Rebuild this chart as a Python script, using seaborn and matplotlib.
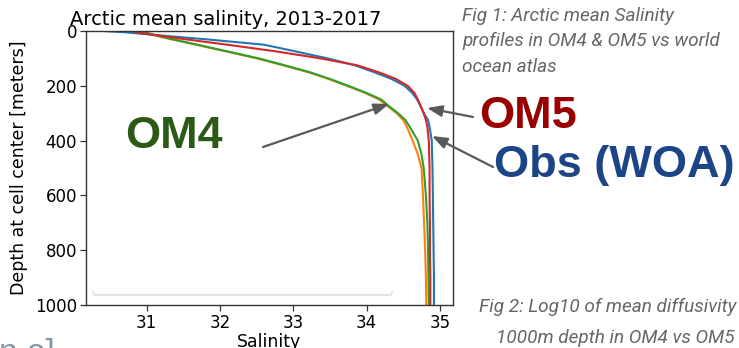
import matplotlib
matplotlib.use("Agg")
import matplotlib.pyplot as plt
import seaborn as sns
import pandas as pd
from matplotlib import font_manager as fm
from matplotlib.lines import Line2D
from matplotlib.patches import FancyArrowPatch

# ---------------- data ----------------
depth = [0, 5, 10, 20, 30, 50, 75, 100, 125, 150, 175, 200, 225, 250, 275,
         300, 325, 350, 400, 450, 500, 600, 700, 800, 900, 1000]

sal_obs = [30.40, 30.72, 30.92, 31.35, 31.80, 32.60, 33.04, 33.47, 33.84, 34.10,
           34.34, 34.52, 34.62, 34.69, 34.74, 34.78, 34.84, 34.86, 34.89, 34.895,
           34.90, 34.905, 34.91, 34.915, 34.92, 34.92]
sal_om4a = [30.88, 30.96, 31.03, 31.17, 31.33, 31.67, 32.09, 32.50, 32.86, 33.20,
            33.48, 33.73, 33.97, 34.17, 34.29, 34.41, 34.50, 34.55, 34.63, 34.70,
            34.75, 34.77, 34.785, 34.80, 34.81, 34.815]
sal_om4b = [30.90, 30.98, 31.05, 31.19, 31.35, 31.69, 32.11, 32.53, 32.88, 33.22,
            33.50, 33.75, 33.99, 34.20, 34.31, 34.43, 34.53, 34.59, 34.70, 34.75,
            34.78, 34.81, 34.83, 34.84, 34.845, 34.85]
sal_om5 = [30.77, 30.87, 30.98, 31.25, 31.52, 32.10, 32.78, 33.37, 33.87, 34.16,
           34.40, 34.56, 34.65, 34.70, 34.74, 34.78, 34.81, 34.83, 34.85, 34.855,
           34.86, 34.86, 34.865, 34.865, 34.87, 34.87]

series_names = ["WOA", "OM4 a", "OM4 b", "OM5"]
series_values = [sal_obs, sal_om4a, sal_om4b, sal_om5]
series_colors = ["#1f77b4", "#ff7f0e", "#2ca02c", "#d62728"]

xticks = [31, 32, 33, 34, 35]
yticks = [0, 200, 400, 600, 800, 1000]

title = "Arctic mean salinity, 2013-2017"
xlabel = "Salinity"
ylabel = "Depth at cell center [meters]"

cap1 = ["Fig 1: Arctic mean Salinity", "profiles in OM4 & OM5 vs world", "ocean atlas"]
cap2 = ["Fig 2: Log10 of mean diffusivity", "1000m depth in OM4 vs OM5 v"]

# ---------------- figure ----------------
W, H = 739, 348
plt.rcParams["font.family"] = ["DejaVu Sans"]
fig = plt.figure(figsize=(W / 100, H / 100), dpi=100)
fig.patch.set_facecolor("white")

def fx(x):
    return x / W

def fy(y):
    return 1 - y / H

ax = fig.add_axes([fx(86), fy(305), (453 - 86) / W, (305 - 31) / H])

df = pd.concat(
    [pd.DataFrame({"depth": depth, "salinity": v, "series": n})
     for n, v in zip(series_names, series_values)],
    ignore_index=True,
)
sns.lineplot(data=df, x="salinity", y="depth", hue="series",
             palette=dict(zip(series_names, series_colors)),
             sort=False, estimator=None, linewidth=1.5, legend=False, ax=ax)

ax.set_xlim(30.17, 35.18)
ax.set_ylim(1000, 0)
ax.set_yticks(yticks)
ax.set_xticks(xticks)
ax.tick_params(labelsize=12, length=4, pad=2.5, width=0.9, color="#333333")
for s in ax.spines.values():
    s.set_color("#333333")
    s.set_linewidth(1.0)
ax.set_xlabel(xlabel, fontsize=12.5, labelpad=1)
ax.set_ylabel(ylabel, fontsize=12.5, labelpad=5)
ax.set_title(title, loc="left", x=-0.044, pad=4.3, fontsize=14)

# faint slide artefact line
fig.add_artist(Line2D([fx(93), fx(94), fx(391), fx(392)],
                      [fy(292), fy(295), fy(295), fy(292)],
                      color="#e4e4e4", lw=1.5, transform=fig.transFigure))

# ---------------- annotations ----------------
big = dict(family=["Liberation Sans", "DejaVu Sans"], weight="bold", fontsize=32.5)
fig.text(fx(125), fy(148.5), "OM4", color="#2b5a17", va="baseline", ha="left", **big)
fig.text(fx(479), fy(128.5), "OM5", color="#990000", va="baseline", ha="left", **big)
fig.text(fx(494), fy(176.5), "Obs (WOA)", color="#1c4587", va="baseline", ha="left", **big)

def arrow(x0, y0, x1, y1):
    fig.add_artist(FancyArrowPatch((fx(x0), fy(y0)), (fx(x1), fy(y1)),
                                   transform=fig.transFigure,
                                   arrowstyle="-|>,head_length=0.45,head_width=0.17",
                                   mutation_scale=20, color="#595959", lw=1.6,
                                   shrinkA=0, shrinkB=0))

arrow(263, 147, 389, 104)
arrow(473, 117, 427, 108)
arrow(493, 167, 432, 136)

available = {f.name for f in fm.fontManager.ttflist}
if "Liberation Sans Narrow" in available:
    cap_font, cap_size = "Liberation Sans Narrow", 15.5
else:
    cap_font, cap_size = "Roboto", 13.7
cap = dict(family=[cap_font, "DejaVu Sans"], style="italic", fontsize=cap_size,
           color="#666666", va="baseline", ha="left")
for line, yb in zip(cap1, [20.7, 46, 71.5]):
    fig.text(fx(462), fy(yb), line, **cap)
fig.text(fx(479), fy(311.7), cap2[0], **cap)
fig.text(fx(496), fy(343), cap2[1], **cap)

fig.text(fx(-1), fy(362), "n o]", color="#7f97a7", fontsize=24,
         family=["Liberation Sans", "DejaVu Sans"], va="baseline", ha="left")

fig.savefig("out.png", dpi=100)
